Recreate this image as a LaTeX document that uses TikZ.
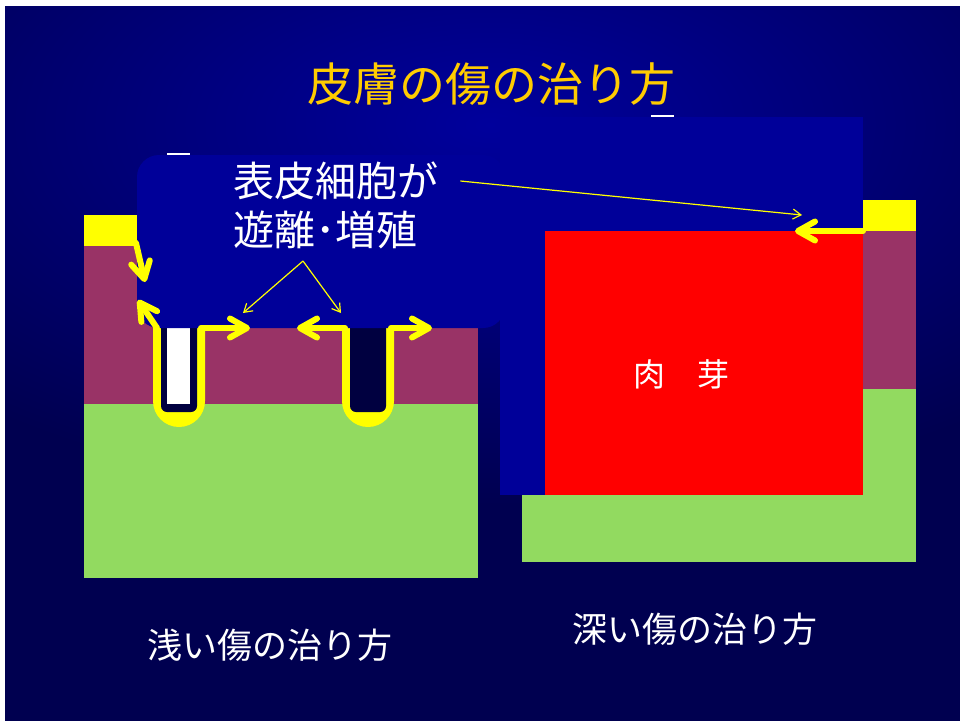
\documentclass[tikz,border=0pt]{standalone}
\usepackage{fontspec}
\setmainfont{Noto Sans CJK JP}
\usetikzlibrary{arrows.meta,positioning}
\definecolor{cNight}{HTML}{000050}
\definecolor{cGlow}{HTML}{00009C}
\definecolor{cPad}{HTML}{000099}
\definecolor{cEpi}{HTML}{FFFF00}
\definecolor{cDerm}{HTML}{993366}
\definecolor{cSub}{HTML}{92DA60}
\definecolor{cGran}{HTML}{FF0000}
\definecolor{cPore}{HTML}{000040}
\definecolor{cTitle}{HTML}{FFCC00}
\tikzset{
  heal/.style ={draw=cEpi, line width=6pt, line cap=round,
                -{Straight Barb[length=17pt, width=19pt, round]}},
  hint/.style ={draw=cEpi, line width=1.2pt, -{Straight Barb[length=8pt, width=10pt]}},
  caption/.style={text=white, inner sep=0pt},
}

\begin{document}
\begin{tikzpicture}[x=1pt, y=-1pt]
  \useasboundingbox (0,0) rectangle (960,721);
  \fill[white] (0,0) rectangle (960,721);
  \fill[cNight] (5,6) rectangle (960,721);
  \begin{scope}
    \clip (5,6) rectangle (960,721);
    \shade[inner color=cGlow, outer color=cNight] (490,125) ellipse [x radius=760, y radius=380];
  \end{scope}

  % shallow wound: epidermis, dermis, subcutis
  \fill[cEpi]  (84,215) rectangle (140,246);
  \fill[cDerm] (84,246) rectangle (478,404);
  \fill[cSub]  (84,404) rectangle (478,578);
  % deep wound
  \fill[cSub]  (522,389) rectangle (916,562);
  \fill[cDerm] (860,231) rectangle (916,389);
  \fill[cEpi]  (860,200) rectangle (916,231);

  % hair follicles
  \foreach \cx in {179,368} {
    \fill[cEpi] (\cx-26,320) -- (\cx-26,401) arc[start angle=180, end angle=0, radius=26]
      -- (\cx+26,320) -- cycle;
    \fill[cPore, rounded corners=6pt] (\cx-18,300) rectangle (\cx+18,412);
  }
  \fill[white] (167,153) rectangle (190,404);
  \fill[white] (651,115) rectangle (674,200);

  % callout and cover of the deep wound
  \fill[cPad, rounded corners=22pt] (137,155) rectangle (505,328);
  \fill[cPad] (500,117) rectangle (863,495);
  \fill[cGran] (545,231) rectangle (863,495);

  % texts
  \node[caption, text=cTitle, font=\fontsize{46}{50}\selectfont] (title) at (491,84) {皮膚の傷の治り方};
  \node[caption, anchor=west, font=\fontsize{41}{45}\selectfont] (cellA) at (233,181) {表皮細胞が};
  \node[caption, anchor=west, font=\fontsize{41}{45}\selectfont] (cellB) at (233,230) {遊離･増殖};
  \node[caption, font=\fontsize{32}{36}\selectfont] (gran) at (681,374) {肉　芽};
  \node[caption, font=\fontsize{35}{40}\selectfont] (shallow) at (270,645) {浅い傷の治り方};
  \node[caption, font=\fontsize{35}{40}\selectfont] (deep) at (695,629) {深い傷の治り方};

  % ends of the arrows
  \foreach \name/\x/\y in {fork/303/261, edgeL/243/313, edgeR/341/313, cover/802/215,
      lipA/136/243, lipB/145/282, cornA/157/328, cornB/138/300,
      rimA/201/328, tipA/250/328, rimB/345/328, tipB/297/328, rimC/391/328, tipC/432/328,
      rimD/863/231, tipD/795/231}
    \coordinate (\name) at (\x,\y);

  \draw[hint] ([xshift=22pt]cellA.east) -- (cover);
  \draw[hint] (fork) -- (edgeL);
  \draw[hint] (fork) -- (edgeR);

  \draw[heal] (lipA) -- (lipB);
  \draw[heal] (cornA) -- (cornB);
  \draw[heal] (rimA) -- (tipA);
  \draw[heal] (rimB) -- (tipB);
  \draw[heal] (rimC) -- (tipC);
  \draw[heal] (rimD) -- (tipD);
\end{tikzpicture}
\end{document}
